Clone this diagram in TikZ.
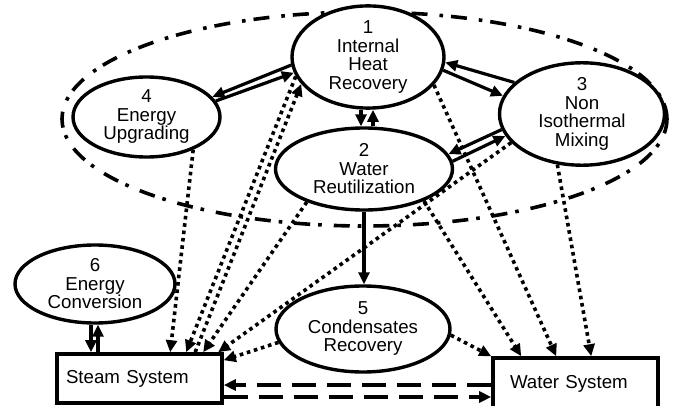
\documentclass[tikz,border=0pt]{standalone}
\usepackage{fontspec}
\setmainfont{Liberation Sans}
\usetikzlibrary{arrows.meta,shapes.geometric}
\begin{document}
\begin{tikzpicture}[x=1pt,y=-1pt,
  every node/.style={font=\fontsize{18.7pt}{18.5pt}\selectfont},
  ell/.style={ellipse, draw, line width=3.4pt, fill=white, inner sep=0pt, align=center},
  sysbox/.style={rectangle, draw, line width=3.6pt, fill=white, align=left},
  sarr/.style={line width=3.2pt, -{Triangle[length=12pt,width=11pt]}},
  darr/.style={line width=3.6pt, dash pattern=on 3.6pt off 3.8pt, -{Triangle[length=12pt,width=11pt]}},
  hdarr/.style={line width=3.6pt, dash pattern=on 24pt off 11pt, -{Triangle[length=12pt,width=11pt]}},
  bigell/.style={line width=3.6pt, dash pattern=on 16pt off 8pt on 3.6pt off 12pt}]
\useasboundingbox (0,0) rectangle (674,406);

\draw[bigell] (364.5,119) ellipse [x radius=302.5pt, y radius=107pt];

\node[ell, minimum width=152pt, minimum height=88pt] (n1) at (368,57) {1\\Internal\\Heat\\Recovery};
\node[ell, minimum width=147pt, minimum height=80pt] (n4) at (146.5,117) {4\\Energy\\Upgrading};
\node[ell, minimum width=165pt, minimum height=85pt] (n3) at (582,114) {3\\Non\\Isothermal\\Mixing};
\node[ell, minimum width=177pt, minimum height=82pt] (n2) at (364,169) {2\\Water\\Reutilization};
\node[ell, minimum width=174pt, minimum height=86pt] (n5) at (363,329) {5\\Condensates\\Recovery};
\node[ell, minimum width=160pt, minimum height=78pt] (n6) at (95,284) {6\\Energy\\Conversion};

\node[sysbox, text width=147pt, inner xsep=9pt, minimum height=49pt] (steam) at (139.5,378.5) {\raisebox{-4pt}{Steam System}};
\node[sysbox, text width=131pt, inner xsep=17pt, minimum height=52pt] (water) at (575.5,384) {Water System};

% solid arrows
\draw[sarr] (n1.186) -- (n4.17);
\draw[sarr] (n4.13) -- (n1.192);
\draw[sarr] (n3.155) -- (n1.356);
\draw[sarr] (n1.350) -- (n3.167);
\draw[sarr] ([xshift=-7pt]n1.south) -- ([xshift=-7pt]n1.south |- n2.north);
\draw[sarr] ([xshift=9pt]n2.north) -- ([xshift=9pt]n2.north |- n1.south);
\draw[sarr] (n3.191) -- (n2.10);
\draw[sarr] (n2.5) -- (n3.196);
\draw[sarr] (n2.south) -- (n2.south |- n5.north);
\draw[sarr] ([xshift=-4pt]n6.south) -- ([xshift=-4pt]n6.south |- steam.north);
\draw[sarr] ([xshift=3pt]n6.south |- steam.north) -- ([xshift=3pt]n6.south);

% dashed arrows
\draw[hdarr] ([yshift=-1pt]water.west) -- ([yshift=-1pt]water.west -| steam.east);
\draw[hdarr] ([yshift=-13pt]water.west -| steam.east) -- ([yshift=-13pt]water.west);

% dotted arrows to steam
\draw[darr] (n4.325) -- ([xshift=115pt]steam.north west);
\draw[darr] (n1.195) -- ([xshift=131pt]steam.north west);
\draw[darr] ([xshift=140pt]steam.north west) -- (n1.202);
\draw[darr] (n2.210) -- ([xshift=148pt]steam.north west);
\draw[darr] (n3.202) -- ([xshift=163pt]steam.north west);
\draw[darr] (n5.189) -- ([yshift=-8pt]steam.north east);

% dotted arrows to water
\draw[darr] (n5.356) -- (water.north west);
\draw[darr] (n2.332) -- ([xshift=30pt]water.north west);
\draw[darr] (n1.337) -- ([xshift=65pt]water.north west);
\draw[darr] (n3.244) -- ([xshift=100pt]water.north west);
\end{tikzpicture}
\end{document}
